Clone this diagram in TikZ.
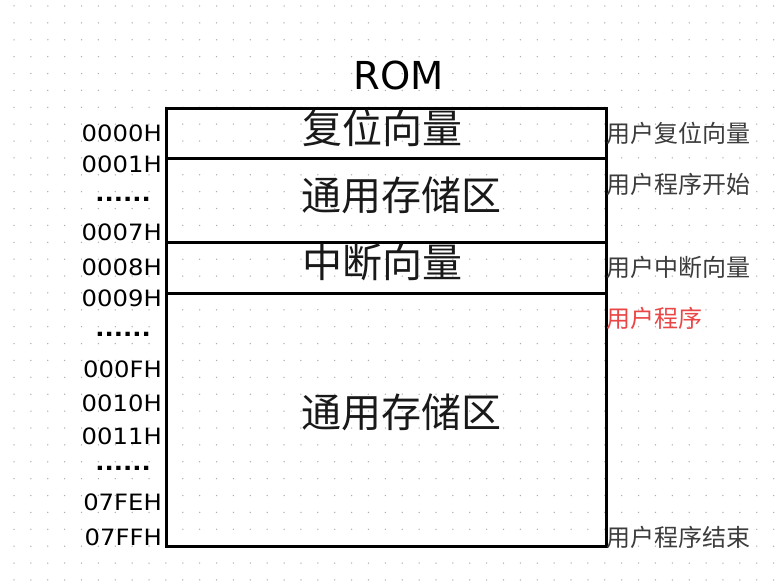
\documentclass[tikz,border=0pt]{standalone}
\usepackage{fontspec}
\setmainfont{DejaVu Sans}
\newfontfamily\cjk{Noto Sans CJK SC}
\newfontfamily\addrfont[FakeStretch=1.08]{DejaVu Sans}
\definecolor{dotgray}{RGB}{175,175,175}
\definecolor{lbl}{RGB}{60,60,60}
\definecolor{lblred}{RGB}{235,70,70}
\begin{document}
\begin{tikzpicture}[x=1pt,y=-1pt,
  addr/.style={anchor=east,inner sep=0pt,font=\addrfont\fontsize{22.5}{24}\selectfont,text=black},
  dots/.style={anchor=east,inner sep=0pt,font=\addrfont\bfseries\fontsize{22.5}{24}\selectfont,text=black},
  side/.style={anchor=west,inner sep=0pt,font=\cjk\fontsize{24}{26}\selectfont,text=lbl},
  inner/.style={inner sep=0pt,font=\cjk\fontsize{40}{44}\selectfont,text=black!90},
  region/.style={draw=black,line width=2.9pt,inner sep=0pt,anchor=north west,minimum width=440pt}]
\useasboundingbox (0,0) rectangle (784,583);
\fill[white] (0,0) rectangle (784,583);
% dotted grid
\foreach \i in {0,...,46}{
  \foreach \j in {0,...,34}{
    \fill[dotgray] ({14+\i*16.88},{6+\j*16.88}) circle (0.75pt);
  }
}
% title
\node[inner sep=0pt,font=\fontsize{38.5}{42}\selectfont] (title) at (399,75) {ROM};
% regions
\node[region,minimum height=50pt] (r1) at (165,107) {};
\node[region,minimum height=84pt] (r2) at (165,157) {};
\node[region,minimum height=51pt] (r3) at (165,241) {};
\node[region,minimum height=253pt] (r4) at (165,292) {};
% inner texts
\node[inner] (t1) at (382,128) {复位向量};
\node[inner] (t2) at (401,195) {通用存储区};
\node[inner] (t3) at (382,262) {中断向量};
\node[inner] (t4) at (401,412) {通用存储区};
% addresses
\node[addr] (a1) at (162,133) {0000H};
\node[addr] (a2) at (162,164) {0001H};
\node[dots] (a3) at (151,199) {......};
\node[addr] (a4) at (162,232) {0007H};
\node[addr] (a5) at (162,267) {0008H};
\node[addr] (a6) at (162,298) {0009H};
\node[dots] (a7) at (151,334) {......};
\node[addr] (a8) at (162,369) {000FH};
\node[addr] (a9) at (162,403) {0010H};
\node[addr] (a10) at (162,436) {0011H};
\node[dots] (a11) at (151,468) {......};
\node[addr] (a12) at (162,502) {07FEH};
\node[addr] (a13) at (162,537) {07FFH};
% side labels
\node[side] (s1) at (606,133) {用户复位向量};
\node[side] (s2) at (606,184) {用户程序开始};
\node[side] (s3) at (606,267) {用户中断向量};
\node[side,text=lblred] (s4) at (606,318) {用户程序};
\node[side] (s5) at (606,537) {用户程序结束};
\end{tikzpicture}
\end{document}
